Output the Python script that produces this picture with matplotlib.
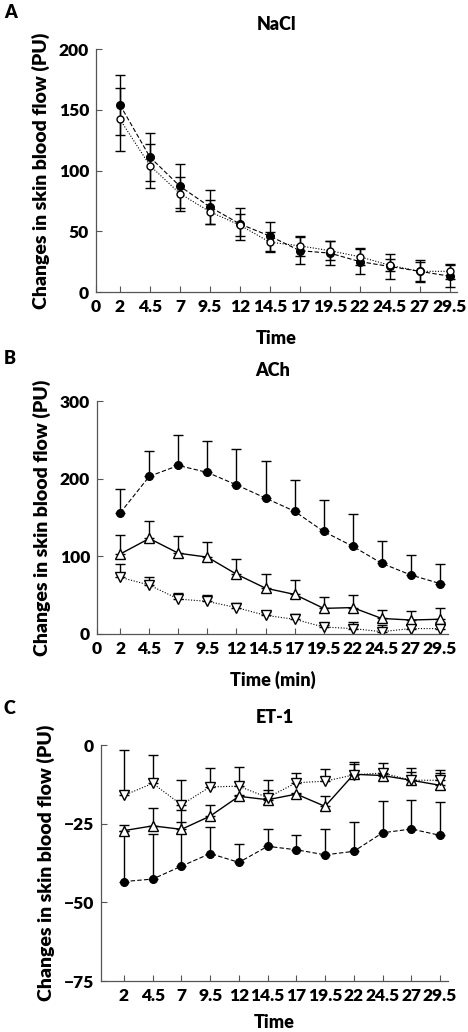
import numpy as np
import matplotlib
matplotlib.use("Agg")
import matplotlib.pyplot as plt

plt.rcParams['font.family'] = ['Lato', 'DejaVu Sans']
plt.rcParams['font.weight'] = 'heavy'
FW = 'heavy'

time = [2, 4.5, 7, 9.5, 12, 14.5, 17, 19.5, 22, 24.5, 27, 29.5]
ticks_ab = [0] + time
ticklbl_ab = ['0', '2', '4.5', '7', '9.5', '12', '14.5', '17', '19.5', '22', '24.5', '27', '29.5']

# panel A - NaCl
nacl_filled = [154, 111, 87, 70, 56, 46, 34, 32, 25, 21, 17, 13]
nacl_filled_err = [25, 20, 18, 14, 13, 12, 11, 10, 10, 10, 9, 9]
nacl_open = [142, 104, 81, 66, 55, 41, 38, 34, 29, 22, 17, 17]
nacl_open_err = [26, 18, 14, 10, 9, 8, 8, 8, 7, 5, 8, 6]

# panel B - ACh
ach_filled = [156, 203, 217, 208, 192, 175, 158, 132, 113, 91, 76, 65]
ach_filled_err = [31, 33, 39, 41, 46, 48, 40, 41, 41, 29, 26, 25]
ach_up = [103, 123, 104, 99, 77, 59, 51, 33, 34, 20, 18, 19]
ach_up_err = [24, 22, 22, 19, 20, 18, 18, 14, 16, 11, 11, 14]
ach_down = [73, 63, 45, 42, 34, 24, 19, 9, 7, 3, 7, 7]
ach_down_err = [17, 11, 8, 8, 6, 4, 7, 3, 8, 8, 5, 9]

# panel C - ET-1
et_filled = [-43.4, -42.6, -38.5, -34.5, -37.3, -32.2, -33.3, -34.9, -33.8, -27.9, -26.7, -28.7]
et_filled_err = [16, 14.4, 14, 8.5, 5.8, 5.4, 4.7, 8.1, 9.3, 10.2, 9.2, 10.5]
et_up = [-27.2, -25.7, -26.8, -22.6, -16.3, -17.4, -15.6, -19.5, -9.3, -9.7, -11.2, -12.8]
et_up_err = [1.7, 5.8, 6, 3.6, 0.5, 3.2, 0.5, 3.2, 3.3, 0.5, 2.6, 4]
et_down = [-16, -12.2, -19, -13.3, -13.1, -16.7, -12, -11.5, -9.5, -8.9, -11.2, -11.2]
et_down_err = [14.3, 9, 7.8, 6, 6.1, 5.7, 3.1, 3.9, 4.1, 3.2, 3.9, 3.2]

fig = plt.figure(figsize=(4.68, 10.32), dpi=100)
W, H = 468., 1032.

def make_ax(l, r, t, b):
    ax = fig.add_axes([l / W, 1 - b / H, (r - l) / W, (b - t) / H])
    for s in ['top', 'right']:
        ax.spines[s].set_visible(False)
    for s in ['left', 'bottom']:
        ax.spines[s].set_color('#555555')
        ax.spines[s].set_linewidth(0.9)
    ax.tick_params(direction='in', length=4, width=0.8, color='#555555',
                   labelsize=12.5, pad=5)
    ax.set_ylabel('Changes in skin blood flow (PU)', fontsize=14, fontweight=FW, labelpad=6)
    return ax

ekw = dict(ecolor='black', elinewidth=1.0, capsize=3.5, capthick=1.0)

# ---- A
ax = make_ax(96, 457, 49, 292)
ax.errorbar(time, nacl_filled, yerr=nacl_filled_err, fmt='o', color='black',
            ls=(0, (4, 2)), lw=0.8, ms=5.5, **ekw)
ax.errorbar(time, nacl_open, yerr=nacl_open_err, fmt='o', color='black', mfc='white',
            ls=(0, (1, 1.5)), lw=0.8, ms=5, **ekw)
ax.set_xlim(0, 30.1)
ax.set_ylim(0, 200)
ax.set_yticks([0, 50, 100, 150, 200])
ax.set_xticks(ticks_ab)
ax.set_xticklabels(ticklbl_ab, fontweight=FW)
ax.set_yticklabels(['0', '50', '100', '150', '200'], fontweight=FW)
ax.set_xlabel('Time', fontsize=13, fontweight=FW, labelpad=11)
ax.set_title('NaCl', fontsize=13, fontweight=FW, pad=14)
fig.text(4 / W, 1 - 13 / H, 'A', fontsize=13, fontweight=FW, va='center')

# ---- B
ax = make_ax(97, 448, 401, 634)
ax.errorbar(time, ach_filled, yerr=[np.zeros(12), ach_filled_err], fmt='o', color='black',
            ls=(0, (4, 2)), lw=0.8, ms=5.5, **ekw)
ax.errorbar(time, ach_up, yerr=[np.zeros(12), ach_up_err], fmt='^', color='black', mfc='white',
            ls='-', lw=1.0, ms=7, **ekw)
ax.errorbar(time, ach_down, yerr=[np.zeros(12), ach_down_err], fmt='v', color='black', mfc='white',
            ls=(0, (1, 1.5)), lw=0.8, ms=7, **ekw)
ax.set_xlim(0, 30.2)
ax.set_ylim(0, 300)
ax.set_yticks([0, 100, 200, 300])
ax.set_yticklabels(['0', '100', '200', '300'], fontweight=FW)
ax.set_xticks(ticks_ab)
ax.set_xticklabels(ticklbl_ab, fontweight=FW)
ax.set_xlabel('Time (min)', fontsize=13, fontweight=FW, labelpad=10)
ax.set_title('ACh', fontsize=13, fontweight=FW, pad=18)
fig.text(4 / W, 1 - 359 / H, 'B', fontsize=13, fontweight=FW, va='center')

# ---- C
ax = make_ax(101, 448, 745, 981)
ax.errorbar(time, et_filled, yerr=[np.zeros(12), et_filled_err], fmt='o', color='black',
            ls=(0, (4, 2)), lw=0.8, ms=5.5, **ekw)
ax.errorbar(time, et_up, yerr=[np.zeros(12), et_up_err], fmt='^', color='black', mfc='white',
            ls='-', lw=1.0, ms=7, **ekw)
ax.errorbar(time, et_down, yerr=[np.zeros(12), et_down_err], fmt='v', color='black', mfc='white',
            ls=(0, (1, 1.5)), lw=0.8, ms=7, **ekw)
ax.set_xlim(0, 30.2)
ax.set_ylim(-75, 0)
ax.set_yticks([-75, -50, -25, 0])
ax.set_yticklabels(['\u221275', '\u221250', '\u221225', '0'], fontweight=FW)
ax.set_xticks(time)
ax.set_xticklabels(ticklbl_ab[1:], fontweight=FW)
ax.set_xlabel('Time', fontsize=13, fontweight=FW, labelpad=7)
ax.set_title('ET-1', fontsize=13, fontweight=FW, pad=16)
fig.text(4 / W, 1 - 709 / H, 'C', fontsize=13, fontweight=FW, va='center')

fig.savefig('out.png', dpi=100)
